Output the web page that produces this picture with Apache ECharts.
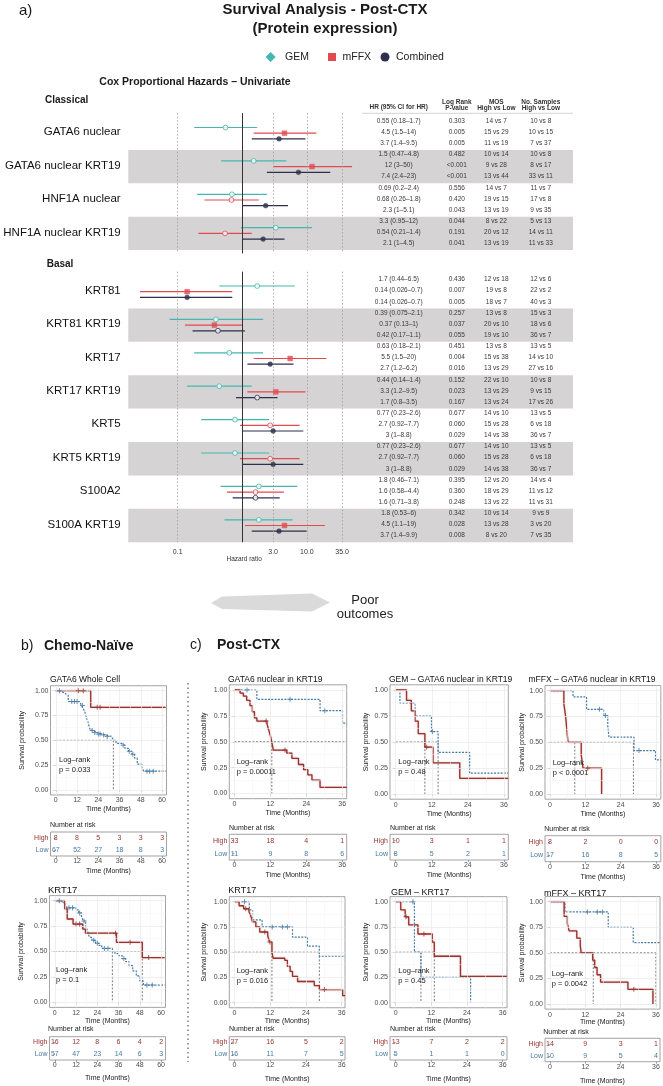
<!DOCTYPE html>
<html>
<head>
<meta charset="utf-8">
<script src="https://cdn.jsdelivr.net/npm/echarts@6/dist/echarts.min.js"></script>
<style>
html,body{margin:0;padding:0;background:#ffffff;}
#chart{width:663px;height:1086px;}
</style>
</head>
<body>
<div id="chart"></div>
<script>
// ================= DATA =================
const classicalGroups = ['GATA6 nuclear','GATA6 nuclear KRT19','HNF1A nuclear','HNF1A nuclear KRT19'];
const basalGroups = ['KRT81','KRT81 KRT19','KRT17','KRT17 KRT19','KRT5','KRT5 KRT19','S100A2','S100A KRT19'];
const hrTicks = [0.1, 3, 10, 35];

// GEM
const gemHR  = [0.55, 1.5, 0.69, 3.3, 1.7, 0.39, 0.63, 0.44, 0.77, 0.77, 1.8, 1.8];
const gemLo  = [0.18, 0.47, 0.2, 0.95, 0.44, 0.075, 0.18, 0.14, 0.23, 0.23, 0.46, 0.53];
const gemHi  = [1.7, 4.8, 2.4, 12, 6.5, 2.1, 2.1, 1.4, 2.6, 2.6, 7.1, 6];
const gemP   = ['0.303','0.482','0.556','0.044','0.436','0.257','0.451','0.152','0.677','0.677','0.395','0.342'];
const gemMOS = ['14 vs 7','10 vs 14','14 vs 7','8 vs 22','12 vs 18','13 vs 8','13 vs 8','22 vs 10','14 vs 10','14 vs 10','12 vs 20','10 vs 14'];
const gemN   = ['10 vs 8','10 vs 8','11 vs 7','5 vs 13','12 vs 6','15 vs 3','13 vs 5','10 vs 8','13 vs 5','13 vs 5','14 vs 4','9 vs 9'];
const gemFilled = [0,0,0,0,0,0,0,0,0,0,0,0];
// mFFX
const mffxHR  = [4.5, 12, 0.68, 0.54, 0.14, 0.37, 5.5, 3.3, 2.7, 2.7, 1.6, 4.5];
const mffxLo  = [1.5, 3, 0.26, 0.21, 0.026, 0.13, 1.5, 1.2, 0.92, 0.92, 0.58, 1.1];
const mffxHi  = [14, 50, 1.8, 1.4, 0.7, 1, 20, 9.5, 7.7, 7.7, 4.4, 19];
const mffxP   = ['0.005','<0.001','0.420','0.191','0.007','0.037','0.004','0.023','0.060','0.060','0.360','0.028'];
const mffxMOS = ['15 vs 29','9 vs 28','19 vs 15','20 vs 12','19 vs 8','20 vs 10','15 vs 38','13 vs 29','15 vs 28','15 vs 28','18 vs 29','13 vs 28'];
const mffxN   = ['10 vs 15','8 vs 17','17 vs 8','14 vs 11','22 vs 2','18 vs 6','14 vs 10','9 vs 15','6 vs 18','6 vs 18','11 vs 12','3 vs 20'];
const mffxFilled = [1,1,0,0,1,1,1,1,0,0,0,1];
// Combined
const combHR  = [3.7, 7.4, 2.3, 2.1, 0.14, 0.42, 2.7, 1.7, 3, 3, 1.6, 3.7];
const combLo  = [1.4, 2.4, 1, 1, 0.026, 0.17, 1.2, 0.8, 1, 1, 0.71, 1.4];
const combHi  = [9.5, 23, 5.1, 4.5, 0.7, 1.1, 6.2, 3.5, 8.8, 8.8, 3.8, 9.9];
const combP   = ['0.005','<0.001','0.043','0.041','0.005','0.055','0.016','0.167','0.029','0.029','0.248','0.008'];
const combMOS = ['11 vs 19','13 vs 44','13 vs 19','13 vs 19','18 vs 7','19 vs 10','13 vs 29','13 vs 24','14 vs 38','14 vs 38','13 vs 22','8 vs 20'];
const combN   = ['7 vs 37','33 vs 11','9 vs 35','11 vs 33','40 vs 3','36 vs 7','27 vs 16','17 vs 26','36 vs 7','36 vs 7','11 vs 31','7 vs 35'];
const combFilled = [1,1,1,1,1,0,1,0,1,1,0,1];

// Kaplan-Meier panels
const kmTicksB = [0, 12, 24, 36, 48, 60];
const kmTicksC = [0, 12, 24, 36];
const survTicks = [0, 0.25, 0.5, 0.75, 1];

// b) GATA6 Whole Cell
const b1High = [[0,1],[19.7,0.833],[62,0.833]];
const b1HighCens = [[12.7,1],[15.5,1],[23.4,0.833],[25,0.833]];
const b1Low = [[0,1],[2.5,0.985],[4,0.97],[5.5,0.955],[7,0.89],[13.5,0.87],[14.5,0.85],[15.5,0.82],[16.5,0.78],[17.5,0.72],[18.5,0.66],[19.5,0.6],[21,0.58],[23,0.565],[26,0.555],[28,0.54],[31.5,0.52],[32.5,0.5],[34,0.47],[37,0.45],[39,0.42],[41,0.39],[43,0.36],[44.5,0.32],[46,0.26],[48.5,0.23],[49.6,0.19],[62,0.19]];
const b1LowCens = [[2,1],[9,0.89],[10.5,0.89],[12,0.89],[15,0.85],[20.5,0.6],[22,0.58],[24,0.565],[25,0.565],[27,0.555],[29,0.54],[38,0.45],[41.5,0.39],[43.5,0.36],[51.5,0.19],[53,0.19],[55,0.19]];
const b1MedH = 32.5, b1MedV = [32.5];
const b1RiskHigh = [8, 8, 5, 3, 3, 3], b1RiskLow = [67, 52, 27, 18, 8, 3];
// b) KRT17
const b2High = [[0,1],[5.6,0.92],[7,0.82],[10.3,0.77],[15.8,0.72],[17.3,0.68],[34.8,0.59],[49.4,0.44],[62,0.44]];
const b2HighCens = [[12,0.77],[14,0.77],[34.3,0.68],[42.5,0.59],[53,0.44]];
const b2Low = [[0,1],[4,0.98],[6,0.96],[7,0.93],[12,0.91],[13.5,0.88],[15,0.85],[16,0.8],[17.5,0.75],[18.5,0.7],[19.5,0.64],[21,0.61],[23,0.58],[25,0.56],[26.5,0.53],[32.5,0.5],[34,0.48],[36,0.46],[38,0.43],[40,0.4],[42,0.36],[44,0.31],[46,0.26],[48,0.21],[50,0.17],[62,0.17]];
const b2LowCens = [[2.5,1],[8,0.93],[10,0.93],[14,0.88],[16.5,0.8],[22,0.61],[24,0.58],[28,0.53],[30,0.53],[39,0.43],[52,0.17],[55,0.17]];
const b2MedH = 49.4, b2MedV = [32.5, 49.4];
const b2RiskHigh = [16, 12, 8, 6, 4, 2], b2RiskLow = [57, 47, 23, 14, 6, 3];
// c) GATA6 nuclear in KRT19
const c1High = [[0,1],[1.9,0.97],[3,0.94],[4.1,0.9],[5.2,0.85],[6,0.79],[6.7,0.73],[7.5,0.7],[10.9,0.67],[11.5,0.61],[12.1,0.55],[12.6,0.48],[13,0.42],[17.5,0.39],[19.2,0.34],[21.4,0.28],[23.1,0.23],[24.5,0.18],[25.9,0.13],[28.6,0.06],[37.5,0.06]];
const c1HighCens = [[10.6,0.7],[16.9,0.42]];
const c1Low = [[0,1],[7.5,0.91],[28.6,0.8],[36.1,0.68],[37.5,0.68]];
const c1LowCens = [[4.2,1],[18.6,0.91],[30.2,0.8]];
const c1MedH = 37.5, c1MedV = [12.5];
const c1RiskHigh = [33, 18, 4, 1], c1RiskLow = [11, 9, 8, 6];
// c) GEM – GATA6 nuclear in KRT19
const c2High = [[0,1],[3.6,0.9],[5.2,0.8],[6.4,0.7],[7.5,0.58],[9.7,0.45],[12.4,0.3],[21.3,0.15],[37.4,0.15]];
const c2HighCens = [[10.3,0.45]];
const c2Low = [[0,1],[1.4,0.875],[6.4,0.75],[11.9,0.6],[14.1,0.4],[24.6,0.2],[37.4,0.2]];
const c2LowCens = [[12.2,0.6]];
const c2MedH = 14.1, c2MedV = [9.7, 14.1];
const c2RiskHigh = [10, 3, 1, 1], c2RiskLow = [8, 5, 2, 1];
// c) mFFX – GATA6 nuclear in KRT19
const c3High = [[0,1],[4.7,0.875],[5.3,0.75],[5.7,0.625],[6.1,0.5],[10.6,0.375],[11.2,0.25],[17.5,0]];
const c3HighCens = [[12.8,0.25]];
const c3Low = [[0,1],[7.8,0.94],[12.4,0.82],[18.2,0.76],[19.6,0.66],[20,0.55],[28.5,0.42],[35.8,0.33],[37.6,0.33]];
const c3LowCens = [[16.8,0.82],[18.8,0.76],[30.2,0.42]];
const c3MedH = 28.3, c3MedV = [8.4, 28.3];
const c3RiskHigh = [8, 2, 0, 0], c3RiskLow = [17, 16, 8, 5];
// c) KRT17
const c4High = [[0,1],[1.6,0.96],[3.1,0.93],[4.9,0.9],[5.5,0.86],[6.1,0.8],[7.2,0.75],[8.5,0.7],[11.2,0.66],[11.8,0.6],[12.6,0.5],[13,0.44],[16.9,0.42],[17.8,0.36],[18.7,0.31],[19.5,0.26],[21.2,0.21],[26.8,0.17],[28.5,0.13],[36.3,0.07],[37.1,0.07]];
const c4HighCens = [[3.8,0.93],[10.2,0.7],[11.9,0.6],[30.2,0.13]];
const c4Low = [[0,1],[5,0.92],[6.1,0.82],[9.3,0.75],[19.5,0.65],[24.5,0.56],[28.5,0.46],[37.1,0.46]];
const c4LowCens = [[3.4,1],[12.7,0.75],[16.1,0.75],[17.8,0.75]];
const c4MedH = 28.5, c4MedV = [12.6, 28.5];
const c4RiskHigh = [27, 16, 5, 2], c4RiskLow = [16, 11, 7, 5];
// c) GEM – KRT17
const c5High = [[0,1],[1.7,0.92],[3.2,0.85],[4.4,0.77],[7.5,0.68],[12.3,0.6],[13,0.46],[21.8,0.26],[37.4,0.26]];
const c5HighCens = [[3.5,0.85],[9.5,0.68]];
const c5Low = [[0,1],[6.3,0.5],[8.5,0.25],[25.2,0]];
const c5LowCens = [[5.8,1]];
const c5MedH = 13, c5MedV = [8.5, 13];
const c5RiskHigh = [13, 7, 2, 2], c5RiskLow = [5, 1, 1, 0];
// c) mFFX – KRT17
const c6High = [[0,1],[4.8,0.857],[5.9,0.786],[6.5,0.714],[9.1,0.643],[10.3,0.571],[10.6,0.5],[14.5,0.429],[15.2,0.357],[16,0.286],[17.2,0.214],[26.5,0.143],[35,0]];
const c6HighCens = [[28.5,0.143]];
const c6Low = [[0,1],[5.1,0.9],[19.8,0.75],[28.3,0.6],[37.4,0.6]];
const c6LowCens = [[12.7,0.9],[16.1,0.9],[17.8,0.9]];
const c6MedH = 36, c6MedV = [14.7, 36];
const c6RiskHigh = [14, 9, 3, 1], c6RiskLow = [10, 9, 5, 4];

// ================= STYLE / LAYOUT =================
const FONT = '"Liberation Sans", Arial, Helvetica, sans-serif';
const C_GEM = '#45B7B0', C_MFFX = '#E14B50', C_COMB = '#2C2F4D';
const KM_HIGH = '#983430', KM_LOW = '#4679A5';
const BAND = '#D5D3D3';
const PLUS = 'path://M4,0H6V4H10V6H6V10H4V6H0V4H4Z';
const UNIT = 33.4;
const TABLE_X = [398.7, 456.8, 496.3, 540.8];
const ROW_OFF = [-0.36, -0.03, 0.30];

const TREAT = [
  {name:'GEM', color:C_GEM, hr:gemHR, lo:gemLo, hi:gemHi, p:gemP, mos:gemMOS, n:gemN, filled:gemFilled, off:-0.17},
  {name:'mFFX', color:C_MFFX, hr:mffxHR, lo:mffxLo, hi:mffxHi, p:mffxP, mos:mffxMOS, n:mffxN, filled:mffxFilled, off:0},
  {name:'Combined', color:C_COMB, hr:combHR, lo:combLo, hi:combHi, p:combP, mos:combMOS, n:combN, filled:combFilled, off:0.17}
];

const grids = [], xAxes = [], yAxes = [], series = [], graphics = [];

function T(x, y, text, o) {
  o = o || {};
  return {type:'text', x:x, y:y, silent:true, z:10, rotation:o.r||0,
    style:{text:text, fill:o.c||'#1a1a1a', fontSize:o.s||10, fontFamily:FONT, fontWeight:o.w||'normal',
      align:o.a||'left', verticalAlign:o.v||'middle'}};
}

// ---------- Forest panels ----------
function forestPanel(names, start, top, yMax, bottomAxis) {
  const gi = grids.length;
  grids.push({left:128.3, top:top, width:231.7, height:(yMax + 0.6) * UNIT});
  xAxes.push({type:'log', logBase:10, gridIndex:gi, min:0.0172, max:66.3,
    axisLine:{show:false}, axisTick:{show:false}, axisLabel:{show:false}, splitLine:{show:false},
    name: bottomAxis ? 'Hazard ratio' : '', nameLocation:'middle', nameGap:14,
    nameTextStyle:{fontSize:6.5, color:'#333', fontFamily:FONT}});
  yAxes.push({type:'value', gridIndex:gi, min:-0.6, max:yMax, inverse:true, show:false});
  const ax = {xAxisIndex:gi, yAxisIndex:gi};

  series.push(Object.assign({type:'line', data:[], z:1, silent:true,
    markLine:{silent:true, symbol:'none', label:{show:false},
      lineStyle:{color:'#9C9C9C', width:0.8, type:[1.5,2]},
      data: hrTicks.map(v => ({xAxis:v}))}}, ax));

  series.push(Object.assign({type:'custom', z:2, silent:true, clip:false,
    data: names.map((_, i) => [1, i]).filter(d => d[1] % 2 === 1),
    encode:{x:0, y:1},
    renderItem:(params, api) => {
      const g = api.value(1);
      const y1 = api.coord([1, g - 0.5])[1], y2 = api.coord([1, g + 0.5])[1];
      const cs = params.coordSys;
      return {type:'rect', shape:{x:cs.x, y:Math.min(y1, y2), width:573 - cs.x, height:Math.abs(y2 - y1)}, style:{fill:BAND}};
    }}, ax));

  series.push(Object.assign({type:'line', data:[], z:3, silent:true,
    markLine:{silent:true, symbol:'none', label:{show:false},
      lineStyle:{color:'#333', width:1, type:'solid'}, data:[{xAxis:1}]}}, ax));

  const ciData = [];
  names.forEach((_, i) => TREAT.forEach((t, ti) => ciData.push([t.lo[start + i], t.hi[start + i], i + t.off, ti])));
  series.push(Object.assign({type:'custom', z:4, silent:true, data:ciData, encode:{x:[0,1], y:2},
    renderItem:(params, api) => {
      const a = api.coord([api.value(0), api.value(2)]), b = api.coord([api.value(1), api.value(2)]);
      return {type:'line', shape:{x1:a[0], y1:a[1], x2:b[0], y2:b[1]}, style:{stroke:TREAT[api.value(3)].color, lineWidth:1.2}};
    }}, ax));

  TREAT.forEach(t => {
    series.push(Object.assign({type:'scatter', name:t.name, z:5, silent:true, symbolSize:4.8,
      itemStyle:{color:t.color},
      data: names.map((_, i) => {
        const k = start + i, f = t.filled[k];
        return {value:[t.hr[k], i + t.off],
          symbol: (t.name === 'mFFX' && f) ? 'rect' : 'circle',
          itemStyle: f ? {color:t.color, borderColor:t.color, borderWidth:0.5}
                       : {color:'#ffffff', borderColor:t.color, borderWidth:1}};
      })}, ax));
  });

  const tData = [];
  names.forEach((_, i) => TREAT.forEach((t, ti) => tData.push([1, i + ROW_OFF[ti], start + i, ti])));
  series.push(Object.assign({type:'custom', z:6, silent:true, clip:false, data:tData, encode:{x:0, y:1},
    renderItem:(params, api) => {
      const y = api.coord([1, api.value(1)])[1];
      const k = api.value(2), t = TREAT[api.value(3)];
      const texts = [t.hr[k] + ' (' + t.lo[k] + '\u2013' + t.hi[k] + ')', t.p[k], t.mos[k], t.n[k]];
      return {type:'group', children: TABLE_X.map((x, c) => ({type:'text', x:x, y:y,
        style:{text:texts[c], fill:'#3a3a3a', fontSize:6.5, fontFamily:FONT, align:'center', verticalAlign:'middle'}}))};
    }}, ax));

  series.push(Object.assign({type:'custom', z:6, silent:true, clip:false,
    data: names.map((_, i) => [1, i]), encode:{x:0, y:1},
    renderItem:(params, api) => {
      const y = api.coord([1, api.value(1)])[1];
      return {type:'text', x:120.7, y:y - 1,
        style:{text:names[params.dataIndex], fill:'#111', fontSize:11.5, fontFamily:FONT, align:'right', verticalAlign:'middle'}};
    }}, ax));

  if (bottomAxis) {
    series.push(Object.assign({type:'custom', z:6, silent:true, clip:false,
      data: hrTicks.map(v => [v, yMax]), encode:{x:0, y:1},
      renderItem:(params, api) => {
        const c = api.coord([api.value(0), api.value(1)]);
        return {type:'text', x:c[0], y:c[1] + 9.5,
          style:{text:hrTicks[params.dataIndex].toFixed(1), fill:'#333', fontSize:7, fontFamily:FONT, align:'center', verticalAlign:'middle'}};
      }}, ax));
  }
}

forestPanel(classicalGroups, 0, 116.5 - 0.1 * UNIT, 3.6, false);
forestPanel(basalGroups, 4, 275 - 0.1 * UNIT, 7.5, true);

// ---------- KM panels ----------
const PANELS = [
  {title:'GATA6 Whole Cell', high:b1High, low:b1Low, hc:b1HighCens, lc:b1LowCens, medH:b1MedH, medV:b1MedV, rh:b1RiskHigh, rl:b1RiskLow, p:'p = 0.033', ticks:kmTicksB,
   L:{gx:50.5, gw:116, s1:690.7, s0:790, xr:[-3,62.5], rt:832, rH:24, tx:50, ty:680, lx:59, ly:760, nx:50, ny:825, yg:24.5, xg:11, rxg:12, ts:8.5}},
  {title:'KRT17', high:b2High, low:b2Low, hc:b2HighCens, lc:b2LowCens, medH:b2MedH, medV:b2MedV, rh:b2RiskHigh, rl:b2RiskLow, p:'p = 0.1', ticks:kmTicksB,
   L:{gx:49.5, gw:116, s1:900.7, s0:1002.3, xr:[-3,62.5], rt:1036.7, rH:23.3, tx:48, ty:890, lx:56, ly:970, nx:48, ny:1029, yg:24.5, xg:9, rxg:15, ts:9.5}},
  {title:'GATA6 nuclear in KRT19', high:c1High, low:c1Low, hc:c1HighCens, lc:c1LowCens, medH:c1MedH, medV:c1MedV, rh:c1RiskHigh, rl:c1RiskLow, p:'p = 0.00011', ticks:kmTicksC,
   L:{gx:229.3, gw:117.4, s1:690, s0:793.5, xr:[-1.7,37.5], rt:834.3, rH:25.7, tx:228, ty:680, lx:236.7, ly:761.7, nx:229, ny:827.7, yg:21.5, xg:11, rxg:12, ts:8.5}},
  {title:'GEM \u2013 GATA6 nuclear in KRT19', high:c2High, low:c2Low, hc:c2HighCens, lc:c2LowCens, medH:c2MedH, medV:c2MedV, rh:c2RiskHigh, rl:c2RiskLow, p:'p = 0.48', ticks:kmTicksC,
   L:{gx:390, gw:118.3, s1:690, s0:794, xr:[-1.9,37.45], rt:834.3, rH:25.7, tx:389, ty:680, lx:398.3, ly:761.7, nx:390, ny:828, yg:20.5, xg:11, rxg:12, ts:8.5}},
  {title:'mFFX \u2013 GATA6 nuclear in KRT19', high:c3High, low:c3Low, hc:c3HighCens, lc:c3LowCens, medH:c3MedH, medV:c3MedV, rh:c3RiskHigh, rl:c3RiskLow, p:'p < 0.0001', ticks:kmTicksC,
   L:{gx:545, gw:117.5, s1:690.7, s0:794, xr:[-1.7,37.6], rt:835.7, rH:26, tx:528.5, ty:680, lx:552.7, ly:762.7, nx:544.3, ny:829.3, yg:18, xg:11, rxg:12, ts:8.5}},
  {title:'KRT17', high:c4High, low:c4Low, hc:c4HighCens, lc:c4LowCens, medH:c4MedH, medV:c4MedV, rh:c4RiskHigh, rl:c4RiskLow, p:'p = 0.016', ticks:kmTicksC,
   L:{gx:229.3, gw:115.7, s1:901.7, s0:1002.7, xr:[-1.7,37.1], rt:1036.7, rH:23.3, tx:228.3, ty:891, lx:236.7, ly:970.7, nx:229, ny:1029, yg:21.5, xg:9, rxg:16, ts:9}},
  {title:'GEM \u2013 KRT17', high:c5High, low:c5Low, hc:c5HighCens, lc:c5LowCens, medH:c5MedH, medV:c5MedV, rh:c5RiskHigh, rl:c5RiskLow, p:'p = 0.45', ticks:kmTicksC,
   L:{gx:390, gw:117, s1:901.7, s0:1002.7, xr:[-1.9,37.45], rt:1036.7, rH:23.3, tx:391, ty:892.3, lx:398.3, ly:970.7, nx:390, ny:1029, yg:20.5, xg:9, rxg:16, ts:9}},
  {title:'mFFX \u2013 KRT17', high:c6High, low:c6Low, hc:c6HighCens, lc:c6LowCens, medH:c6MedH, medV:c6MedV, rh:c6RiskHigh, rl:c6RiskLow, p:'p = 0.0042', ticks:kmTicksC,
   L:{gx:545, gw:115, s1:901.7, s0:1004, xr:[-1.7,37.4], rt:1038.3, rH:23.4, tx:544, ty:893.3, lx:551.7, ly:974.3, nx:543.3, ny:1031.7, yg:18.5, xg:9, rxg:16, ts:9}}
];

const axisNameStyle = {fontSize:7, color:'#1a1a1a', fontFamily:FONT};
const tickLabelStyle = {fontSize:7, color:'#4D4D4D', fontFamily:FONT};

function addKM(P) {
  const L = P.L;
  const span = L.s0 - L.s1;
  const gi = grids.length;
  grids.push({left:L.gx, top:L.s1 - 0.05 * span, width:L.gw, height:1.1 * span, show:true, borderColor:'#8C8C8C', borderWidth:0.8});
  xAxes.push({type:'value', gridIndex:gi, min:L.xr[0], max:L.xr[1],
    axisLine:{show:false}, axisTick:{show:true, length:2, customValues:P.ticks, lineStyle:{color:'#666', width:0.6}},
    axisLabel:Object.assign({customValues:P.ticks, margin:2}, tickLabelStyle), splitLine:{show:false},
    name:'Time (Months)', nameLocation:'middle', nameGap:L.xg, nameTextStyle:axisNameStyle});
  yAxes.push({type:'value', gridIndex:gi, min:-0.05, max:1.05,
    axisLine:{show:false}, axisTick:{show:true, length:2, customValues:survTicks, lineStyle:{color:'#666', width:0.6}},
    axisLabel:Object.assign({customValues:survTicks, margin:2, formatter:v => Number(v).toFixed(2)}, tickLabelStyle), splitLine:{show:false},
    name:'Survival probability', nameLocation:'middle', nameGap:L.yg, nameTextStyle:axisNameStyle});
  const ax = {xAxisIndex:gi, yAxisIndex:gi};

  const minorX = P.ticks.slice(0, -1).map((t, i) => (t + P.ticks[i + 1]) / 2);
  const minorY = survTicks.slice(0, -1).map((t, i) => (t + survTicks[i + 1]) / 2);
  series.push(Object.assign({type:'line', data:[], z:1, silent:true,
    markLine:{silent:true, symbol:'none', label:{show:false},
      data: [].concat(
        P.ticks.map(v => ({xAxis:v, lineStyle:{color:'#E8E8E8', width:0.7, type:'solid'}})),
        survTicks.map(v => ({yAxis:v, lineStyle:{color:'#E8E8E8', width:0.7, type:'solid'}})),
        minorX.map(v => ({xAxis:v, lineStyle:{color:'#F3F3F3', width:0.5, type:'solid'}})),
        minorY.map(v => ({yAxis:v, lineStyle:{color:'#F3F3F3', width:0.5, type:'solid'}})))}}, ax));

  const segs = [[0, 0.5, P.medH, 0.5]].concat(P.medV.map(m => [m, 0.5, m, 0]));
  series.push(Object.assign({type:'custom', z:2, silent:true, data:segs, encode:{x:[0,2], y:[1,3]},
    renderItem:(params, api) => {
      const a = api.coord([api.value(0), api.value(1)]), b = api.coord([api.value(2), api.value(3)]);
      return {type:'line', shape:{x1:a[0], y1:a[1], x2:b[0], y2:b[1]}, style:{stroke:'#555', lineWidth:0.8, lineDash:[2,1.6]}};
    }}, ax));

  series.push(Object.assign({type:'line', data:P.low, step:'end', symbol:'none', z:3, silent:true,
    lineStyle:{color:KM_LOW, width:1.2, type:[2,1.3]}}, ax));
  series.push(Object.assign({type:'line', data:P.high, step:'end', symbol:'none', z:4, silent:true,
    lineStyle:{color:KM_HIGH, width:1.3, shadowColor:'rgba(200,110,105,0.7)', shadowBlur:1.5}}, ax));
  series.push(Object.assign({type:'scatter', data:P.lc, symbol:PLUS, symbolSize:5, z:5, silent:true, itemStyle:{color:KM_LOW}}, ax));
  series.push(Object.assign({type:'scatter', data:P.hc, symbol:PLUS, symbolSize:5, z:5, silent:true, itemStyle:{color:KM_HIGH}}, ax));

  // risk table
  const ri = grids.length;
  grids.push({left:L.gx, top:L.rt, width:L.gw, height:L.rH, show:true, borderColor:'#8C8C8C', borderWidth:0.8});
  xAxes.push({type:'value', gridIndex:ri, min:L.xr[0], max:L.xr[1],
    axisLine:{show:false}, axisTick:{show:true, length:2, customValues:P.ticks, lineStyle:{color:'#666', width:0.6}},
    axisLabel:Object.assign({customValues:P.ticks, margin:2}, tickLabelStyle), splitLine:{show:false},
    name:'Time (Months)', nameLocation:'middle', nameGap:L.rxg, nameTextStyle:axisNameStyle});
  yAxes.push({type:'category', gridIndex:ri, data:['Low','High'],
    axisLine:{show:false}, axisTick:{show:true, length:2, alignWithLabel:true, lineStyle:{color:'#666', width:0.6}},
    axisLabel:{fontSize:7, fontFamily:FONT, margin:2, color:(v) => v === 'High' ? KM_HIGH : KM_LOW},
    splitLine:{show:false}});
  const rData = P.ticks.map((t, i) => [t, 1, P.rh[i]]).concat(P.ticks.map((t, i) => [t, 0, P.rl[i]]));
  series.push({type:'custom', xAxisIndex:ri, yAxisIndex:ri, z:5, silent:true, data:rData, encode:{x:0, y:1},
    renderItem:(params, api) => {
      const c = api.coord([api.value(0), api.value(1)]);
      return {type:'text', x:c[0], y:c[1],
        style:{text:String(api.value(2)), fill:api.value(1) === 1 ? KM_HIGH : KM_LOW, fontSize:7, fontFamily:FONT, align:'center', verticalAlign:'middle'}};
    }});

  graphics.push(T(L.tx, L.ty, P.title, {s:L.ts, c:'#111'}));
  graphics.push(T(L.lx, L.ly, 'Log\u2013rank', {s:7.5, c:'#222'}));
  graphics.push(T(L.lx, L.ly + 10, P.p, {s:7.5, c:'#222'}));
  graphics.push(T(L.nx, L.ny, 'Number at risk', {s:7, c:'#222'}));
}
PANELS.forEach(addKM);

// ---------- free text and decorations ----------
graphics.push(T(19, 11, 'a)', {s:15}));
graphics.push(T(325, 10, 'Survival Analysis - Post-CTX', {s:15, w:'bold', a:'center'}));
graphics.push(T(325, 29, '(Protein expression)', {s:15, w:'bold', a:'center'}));
// legend
graphics.push({type:'polygon', silent:true, shape:{points:[[270.6,52],[275.6,57],[270.6,62],[265.6,57]]}, style:{fill:C_GEM}});
graphics.push(T(285, 57, 'GEM', {s:10.5, c:'#222'}));
graphics.push({type:'rect', silent:true, shape:{x:328, y:53, width:8, height:8}, style:{fill:C_MFFX}});
graphics.push(T(342.5, 57, 'mFFX', {s:10.5, c:'#222'}));
graphics.push({type:'circle', silent:true, shape:{cx:385, cy:57, r:4.5}, style:{fill:C_COMB}});
graphics.push(T(396, 57, 'Combined', {s:10.5, c:'#222'}));

graphics.push(T(195, 82, 'Cox Proportional Hazards \u2013 Univariate', {s:10.5, w:'bold', a:'center'}));
graphics.push(T(45, 100, 'Classical', {s:10, w:'bold'}));
graphics.push(T(46.7, 264, 'Basal', {s:10, w:'bold'}));

// table header
const HS = {s:6.5, w:'bold', a:'center', c:'#333'};
graphics.push(T(TABLE_X[0], 107, 'HR (95% CI for HR)', HS));
graphics.push(T(TABLE_X[1], 102.3, 'Log Rank', HS));
graphics.push(T(TABLE_X[1], 108.6, 'P-value', HS));
graphics.push(T(TABLE_X[2], 102.3, 'MOS', HS));
graphics.push(T(TABLE_X[2], 108.6, 'High vs Low', HS));
graphics.push(T(TABLE_X[3], 102.3, 'No. Samples', HS));
graphics.push(T(TABLE_X[3], 108.6, 'High vs Low', HS));
graphics.push({type:'line', silent:true, shape:{x1:362, y1:113.3, x2:573, y2:113.3}, style:{stroke:'#C8C8C8', lineWidth:0.8}});

// arrow + poor outcomes
graphics.push({type:'polygon', silent:true, shape:{points:[[211,603],[222,596.5],[312,593.5],[330,602.5],[312,611.5],[222,609]]}, style:{fill:'#DADADA'}});
graphics.push(T(365, 600, 'Poor', {s:13, a:'center', c:'#222'}));
graphics.push(T(365, 614, 'outcomes', {s:13, a:'center', c:'#222'}));

// section labels
graphics.push(T(21, 646, 'b)', {s:14}));
graphics.push(T(44, 646, 'Chemo-Na\u00efve', {s:14, w:'bold'}));
graphics.push(T(190, 645, 'c)', {s:14}));
graphics.push(T(217, 645, 'Post-CTX', {s:14, w:'bold'}));

// dashed separator
graphics.push({type:'line', silent:true, shape:{x1:188, y1:683, x2:188, y2:1062}, style:{stroke:'#666', lineWidth:1.3, lineDash:[1.5,3]}});

const chart = echarts.init(document.getElementById('chart'), null, {renderer:'canvas'});
chart.setOption({
  animation:false,
  backgroundColor:'#ffffff',
  textStyle:{fontFamily:FONT},
  grid:grids, xAxis:xAxes, yAxis:yAxes, series:series,
  graphic:{elements:graphics}
});
</script>
</body>
</html>
